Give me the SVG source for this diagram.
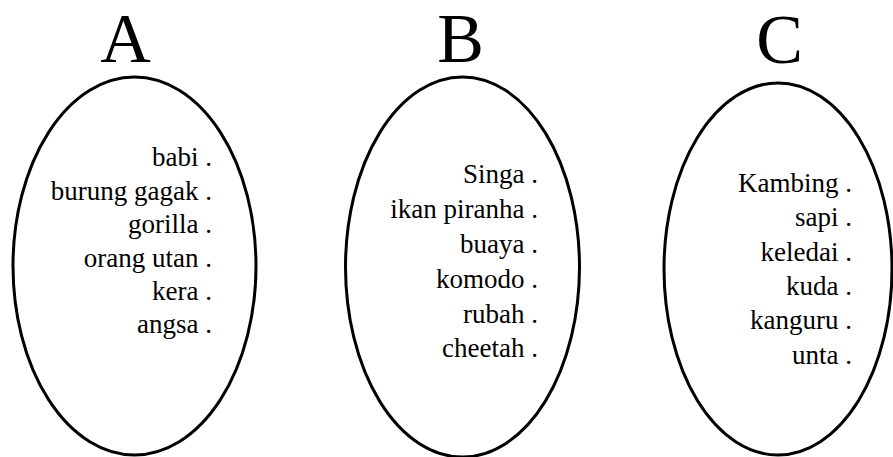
<svg xmlns="http://www.w3.org/2000/svg" width="893" height="457" viewBox="0 0 893 457">
  <style>
    .ring { fill: none; stroke: #000; stroke-width: 3; }
  </style>
  <rect width="893" height="457" fill="#fff"/>

  <g id="group-a" font-family="Liberation Serif, DejaVu Serif, serif" fill="#000">
    <text x="125.5" y="62" font-size="70" text-anchor="middle">A</text>
    <ellipse class="ring" cx="134.5" cy="266" rx="121.5" ry="189"/>
    <g font-size="27" text-anchor="end">
      <text x="212" y="166">babi .</text>
      <text x="212" y="199.5">burung gagak .</text>
      <text x="212" y="233">gorilla .</text>
      <text x="212" y="267">orang utan .</text>
      <text x="212" y="299.5">kera .</text>
      <text x="212" y="333">angsa .</text>
    </g>
  </g>

  <g id="group-b" font-family="Liberation Serif, DejaVu Serif, serif" fill="#000">
    <text x="460.5" y="62" font-size="70" text-anchor="middle">B</text>
    <ellipse class="ring" cx="462.5" cy="267" rx="117" ry="190"/>
    <g font-size="27" text-anchor="end">
      <text x="538" y="182.5">Singa .</text>
      <text x="538" y="218">ikan piranha .</text>
      <text x="538" y="253">buaya .</text>
      <text x="538" y="287.5">komodo .</text>
      <text x="538" y="322.5">rubah .</text>
      <text x="538" y="357">cheetah .</text>
    </g>
  </g>

  <g id="group-c" font-family="Liberation Serif, DejaVu Serif, serif" fill="#000">
    <text x="779.5" y="63" font-size="70" text-anchor="middle">C</text>
    <ellipse class="ring" cx="778" cy="269" rx="114" ry="186"/>
    <g font-size="27" text-anchor="end">
      <text x="852" y="191.5">Kambing .</text>
      <text x="852" y="226">sapi .</text>
      <text x="852" y="260.5">keledai .</text>
      <text x="852" y="295">kuda .</text>
      <text x="852" y="329">kanguru .</text>
      <text x="852" y="363.5">unta .</text>
    </g>
  </g>

  <g id="connectors"/>
</svg>
